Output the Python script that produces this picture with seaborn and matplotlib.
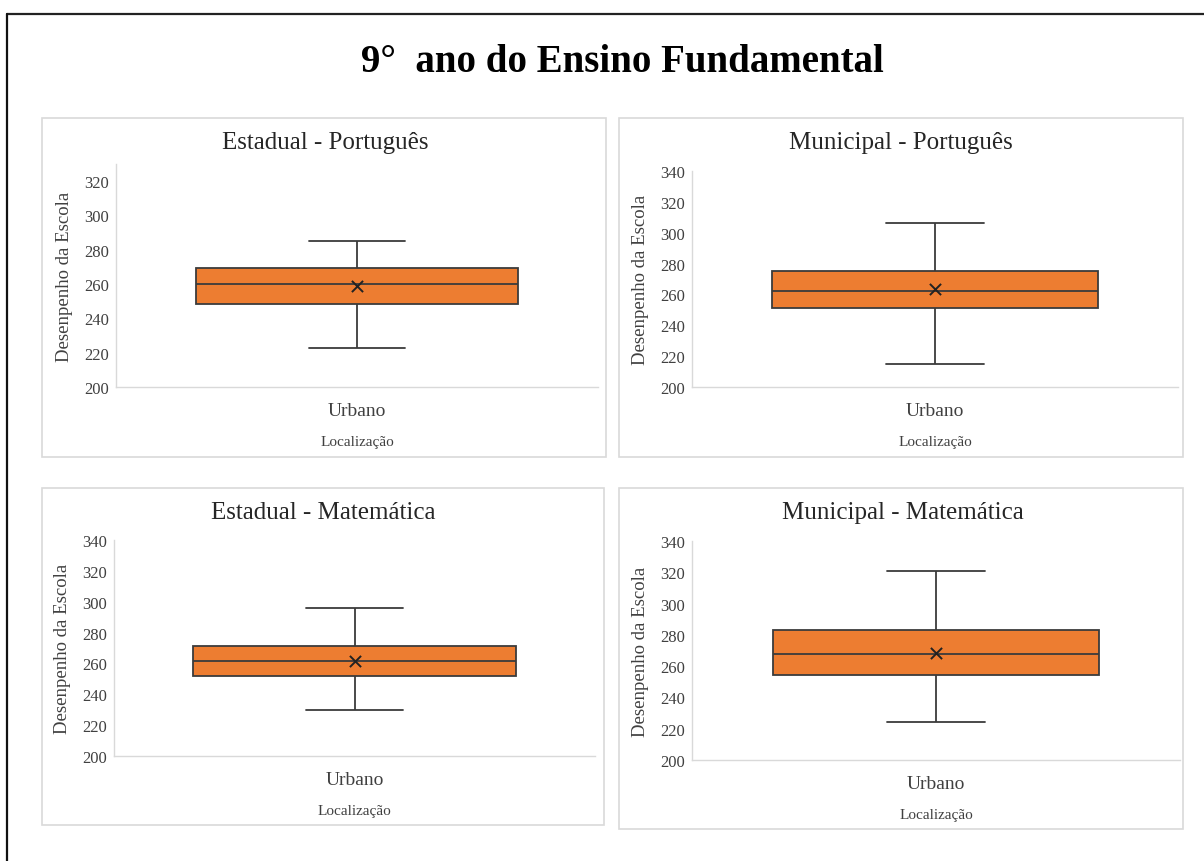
import numpy as np
import pandas as pd
import seaborn as sns
import matplotlib.pyplot as plt
from matplotlib.patches import Rectangle
from matplotlib.lines import Line2D

# five-number summaries (min, Q1, median, Q3, max) + mean
titles = ["Estadual - Português", "Municipal - Português",
          "Estadual - Matemática", "Municipal - Matemática"]
localizacao = "Urbano"
est_port = [223, 248.5, 260, 269.5, 285]
mun_port = [215, 251, 262, 275.5, 306]
est_mat = [229.5, 252, 261.5, 271.5, 296]
mun_mat = [224, 254.5, 268, 283, 321]
medias = [259, 263.5, 261.5, 268.5]
y_tops = [330, 340, 340, 340]

W, H = 1204, 862
ORANGE = "#ED7D31"
EDGE = "#3b3b3b"
TEXT = "#404040"

sns.set_theme(style="white")
plt.rcParams["font.family"] = ["Liberation Serif", "DejaVu Serif"]

fig = plt.figure(figsize=(W / 100, H / 100), dpi=100)


def fx(px):
    return px / W


def fy(py):
    return 1 - py / H


# page border (top and left only)
fig.add_artist(Line2D([fx(7), 1], [fy(15), fy(15)], color="#222222", lw=1.6))
fig.add_artist(Line2D([fx(7), fx(7)], [fy(15), 0], color="#111111", lw=1.6))

fig.text(fx(622), fy(63), "9°  ano do Ensino Fundamental", ha="center", va="center",
         fontsize=28, fontweight="bold", color="black")

# pixel layout: panel frame (x0, y0, x1, y1), plot area (x0, y0, x1, y1), title center
frames = [(42, 119, 606, 458), (619, 119, 1183, 458),
          (42, 489, 604, 826), (619, 489, 1183, 830)]
plots = [(116, 165, 598, 388), (692, 172, 1178, 388),
         (114, 541, 595, 757), (692, 542, 1180, 761)]
title_pos = [(325, 143), (901, 143), (323, 513), (903, 513)]

series = [est_port, mun_port, est_mat, mun_mat]

for i, vals in enumerate(series):
    fr = frames[i]
    fig.add_artist(Rectangle((fx(fr[0]), fy(fr[3])), fx(fr[2] - fr[0]), (fr[3] - fr[1]) / H,
                             transform=fig.transFigure, fill=False,
                             edgecolor="#d9d9d9", lw=1.2))
    p = plots[i]
    ax = fig.add_axes([fx(p[0]), fy(p[3]), fx(p[2] - p[0]), (p[3] - p[1]) / H])

    df = pd.DataFrame({"Localização": [localizacao] * len(vals), "Desempenho": vals})
    sns.boxplot(data=df, x="Localização", y="Desempenho", whis=(0, 100), width=0.67,
                color=ORANGE, linecolor=EDGE, linewidth=1.3, saturation=1,
                capwidths=0.2, ax=ax)
    sns.scatterplot(x=[localizacao], y=[medias[i]], marker="x", s=65, color="#222222",
                    linewidth=1.4, zorder=5, ax=ax)

    ax.set_ylim(200, y_tops[i])
    ax.set_yticks(np.arange(200, y_tops[i] + 1, 20))
    ax.set_xlim(-0.5, 0.5)
    for s in ["top", "right"]:
        ax.spines[s].set_visible(False)
    for s in ["left", "bottom"]:
        ax.spines[s].set_color("#d9d9d9")
        ax.spines[s].set_linewidth(1)
    ax.tick_params(axis="y", length=0, pad=5, labelsize=12, labelcolor=TEXT)
    ax.tick_params(axis="x", length=0, pad=11, labelsize=14, labelcolor=TEXT)
    ax.set_ylabel("Desenpenho da Escola", fontsize=13.5, color=TEXT, labelpad=8)
    ax.set_xlabel("Localização", fontsize=11, color=TEXT, labelpad=11)
    ax.grid(False)

    fig.text(fx(title_pos[i][0]), fy(title_pos[i][1]), titles[i], ha="center",
             va="center", fontsize=18, color="#262626")

fig.savefig("out.png", dpi=100, facecolor="white")
